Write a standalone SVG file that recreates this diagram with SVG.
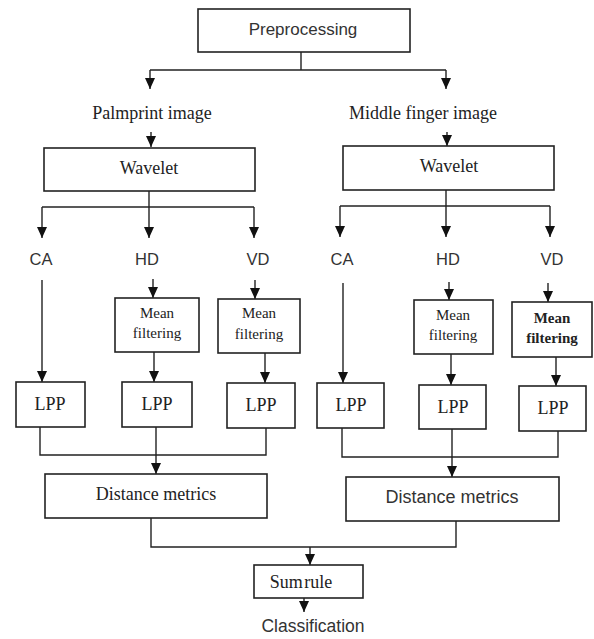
<svg xmlns="http://www.w3.org/2000/svg" width="594" height="639" viewBox="0 0 594 639">
<style>
.box{fill:#fff;stroke:#222;stroke-width:1.6}
.ln{fill:none;stroke:#222;stroke-width:1.4}
.ar{fill:none;stroke:#222;stroke-width:1.4;marker-end:url(#ah)}
.sf{font-family:"Liberation Serif","Times New Roman",serif;fill:#222;text-anchor:middle}
.ss{font-family:"Liberation Sans",Arial,sans-serif;fill:#333;text-anchor:middle}
</style>
<defs>
<marker id="ah" markerUnits="userSpaceOnUse" markerWidth="11" markerHeight="10" viewBox="0 0 11 10" refX="11" refY="5" orient="auto">
<path d="M0,0 L11,5 L0,10 Z" fill="#111"/>
</marker>
</defs>
<g id="connectors">
<path class="ln" d="M301,52 V70 M150,70 H446"/>
<path class="ar" d="M150,70 V89"/>
<path class="ar" d="M446,70 V89"/>
<path class="ar" d="M151,132 V147"/>
<path class="ar" d="M447,132 V146"/>
<path class="ln" d="M42,207 H254"/>
<path class="ar" d="M149,191 V238"/>
<path class="ar" d="M42,207 V238"/>
<path class="ar" d="M254,207 V238"/>
<path class="ln" d="M340,206 H550"/>
<path class="ar" d="M446,190 V237"/>
<path class="ar" d="M340,206 V237"/>
<path class="ar" d="M550,206 V237"/>
<path class="ar" d="M42,280 V382"/>
<path class="ar" d="M153,279 V298"/>
<path class="ar" d="M255,280 V299"/>
<path class="ar" d="M154,352 V382"/>
<path class="ar" d="M265,353 V383"/>
<path class="ar" d="M343,283 V383"/>
<path class="ar" d="M449,282 V300"/>
<path class="ar" d="M548,283 V302"/>
<path class="ar" d="M451,354 V385"/>
<path class="ar" d="M556,357 V386"/>
<path class="ln" d="M40,427 V455 H266 V428"/>
<path class="ar" d="M156,427 V474"/>
<path class="ln" d="M342,428 V457 H558 V431"/>
<path class="ar" d="M452,429 V477"/>
<path class="ln" d="M151,518 V547 H456 V521"/>
<path class="ar" d="M310,547 V565"/>
<path class="ar" d="M304,598 V612"/>
</g>
<g id="preprocessing"><rect class="box" x="198" y="9" width="212" height="43"/><text class="ss" x="303" y="35" font-size="17">Preprocessing</text></g>
<g id="palmprint"><text class="sf" x="152" y="119" font-size="18">Palmprint image</text></g>
<g id="middlefinger"><text class="sf" x="423" y="119" font-size="18">Middle finger image</text></g>
<g id="wavelet1"><rect class="box" x="44" y="148" width="211" height="43"/><text class="sf" x="149" y="174" font-size="18">Wavelet</text></g>
<g id="wavelet2"><rect class="box" x="343" y="146" width="211" height="44"/><text class="sf" x="449" y="172" font-size="18">Wavelet</text></g>
<g id="ca1"><text class="ss" x="41" y="265" font-size="16.5">CA</text></g>
<g id="hd1"><text class="ss" x="147" y="265" font-size="16.5">HD</text></g>
<g id="vd1"><text class="ss" x="258" y="265" font-size="16.5">VD</text></g>
<g id="ca2"><text class="ss" x="342" y="265" font-size="16.5">CA</text></g>
<g id="hd2"><text class="ss" x="448" y="265" font-size="16.5">HD</text></g>
<g id="vd2"><text class="ss" x="552" y="265" font-size="16.5">VD</text></g>
<g id="mean1"><rect class="box" x="115" y="298" width="84" height="54"/><text class="sf" x="157" y="318" font-size="15">Mean</text><text class="sf" x="157" y="338" font-size="15">filtering</text></g>
<g id="mean2"><rect class="box" x="218" y="299" width="82" height="54"/><text class="sf" x="259" y="318" font-size="15">Mean</text><text class="sf" x="259" y="339" font-size="15">filtering</text></g>
<g id="mean3"><rect class="box" x="414" y="300" width="79" height="54"/><text class="sf" x="453" y="320" font-size="15">Mean</text><text class="sf" x="453" y="340" font-size="15">filtering</text></g>
<g id="mean4"><rect class="box" x="512" y="302" width="80" height="55"/><text class="sf" x="552" y="323" font-size="15" font-weight="bold">Mean</text><text class="sf" x="552" y="343" font-size="15" font-weight="bold">filtering</text></g>
<g id="lpp1"><rect class="box" x="16" y="382" width="69" height="45"/><text class="sf" x="50" y="410" font-size="18">LPP</text></g>
<g id="lpp2"><rect class="box" x="122" y="382" width="70" height="45"/><text class="sf" x="157" y="410" font-size="18">LPP</text></g>
<g id="lpp3"><rect class="box" x="227" y="383" width="68" height="45"/><text class="sf" x="261" y="411" font-size="18">LPP</text></g>
<g id="lpp4"><rect class="box" x="317" y="383" width="67" height="45"/><text class="sf" x="351" y="411" font-size="18">LPP</text></g>
<g id="lpp5"><rect class="box" x="419" y="385" width="67" height="44"/><text class="sf" x="453" y="413" font-size="18">LPP</text></g>
<g id="lpp6"><rect class="box" x="519" y="386" width="67" height="45"/><text class="sf" x="553" y="414" font-size="18">LPP</text></g>
<g id="distance1"><rect class="box" x="45" y="474" width="222" height="44"/><text class="sf" x="156" y="500" font-size="18">Distance metrics</text></g>
<g id="distance2"><rect class="box" x="346" y="477" width="213" height="44"/><text class="ss" x="452" y="503" font-size="18">Distance metrics</text></g>
<g id="sumrule"><rect class="box" x="254" y="565" width="109" height="33"/><text class="sf" x="301" y="588" font-size="18" word-spacing="-3">Sum rule</text></g>
<g id="classification"><text class="ss" x="313" y="632" font-size="17.5">Classification</text></g>
</svg>
